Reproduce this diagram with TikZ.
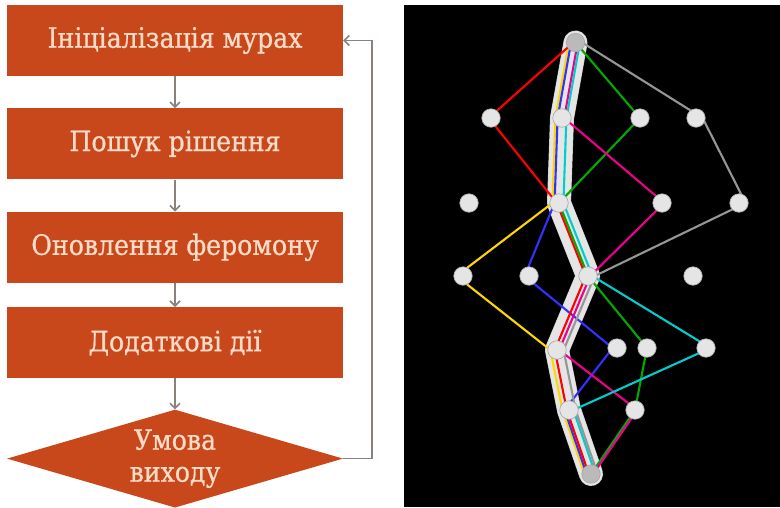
\documentclass[tikz,border=0pt]{standalone}
\usepackage{fontspec}
\setmainfont{DejaVu Serif Condensed}[FakeBold=0.8]
\usepackage{xcolor}
\usepackage{tikz}
\usetikzlibrary{shapes.geometric, arrows.meta, positioning, backgrounds}

\definecolor{stagefill}{RGB}{200,72,28}
\definecolor{stagetext}{RGB}{250,220,200}
\definecolor{linkgray}{RGB}{140,128,124}
\definecolor{antyellow}{RGB}{255,215,0}
\definecolor{antblue}{RGB}{50,50,255}
\definecolor{antgreen}{RGB}{0,170,0}
\definecolor{antcyan}{RGB}{0,205,205}
\definecolor{antgray}{RGB}{150,150,150}

\begin{document}
\begin{tikzpicture}[x=1pt, y=-1pt, node distance=32pt, align=center]
    % Define styles
    \tikzstyle{stage} = [rectangle, minimum width=336pt, minimum height=71pt, text centered, fill=stagefill, text=stagetext, font=\fontsize{28}{32}\selectfont]
    \tikzstyle{decision} = [diamond, aspect=3.4, minimum width=336pt, minimum height=98pt, inner sep=0pt, fill=stagefill, text=stagetext, font=\fontsize{28}{32}\selectfont]
    \tikzstyle{arrow} = [draw=linkgray, line width=1.6pt, ->, >={Straight Barb[length=5pt,width=10pt]}]
    \tikzstyle{town} = [circle, minimum size=18.5pt, inner sep=0pt, fill=black!10, draw=black!35, line width=0.6pt]
    \tikzstyle{home} = [town, fill=black!27]
    \tikzstyle{band} = [line width=23pt, draw=black!10, line cap=round, line join=round]
    \tikzstyle{route} = [line width=2.1pt, line join=round]

    \useasboundingbox (0,0) rectangle (780,507);

    % Flowchart
    \node (init) [stage] at (175,40.5) {Ініціалізація мурах};
    \node (search) [stage, below=of init] {Пошук рішення};
    \node (update) [stage, below=of search] {Оновлення феромону};
    \node (extra) [stage, below=24pt of update] {Додаткові дії};
    \node (exit) [decision, below=31pt of extra] {Умова\\виходу};

    \draw [arrow] (init) -- (search);
    \draw [arrow] (search) -- (update);
    \draw [arrow] (update) -- (extra);
    \draw [arrow] (extra) -- (exit);
    \draw [arrow] (exit.east) -- ++(29,0) |- (init.east);

    % Graph nodes
    \node (s) [home] at (575.5,42.5) {};
    \node (a1) [town] at (491,118) {};
    \node (a2) [town] at (562,118) {};
    \node (a3) [town] at (640,118) {};
    \node (a4) [town] at (696,118) {};
    \node (b1) [town] at (469,203) {};
    \node (b2) [town] at (559,203) {};
    \node (b3) [town] at (662,203) {};
    \node (b4) [town] at (739,203) {};
    \node (c1) [town] at (463,276) {};
    \node (c2) [town] at (529,276) {};
    \node (c3) [town] at (588,276) {};
    \node (c4) [town] at (693,276) {};
    \node (d1) [town] at (557,350) {};
    \node (d2) [town] at (617,348) {};
    \node (d3) [town] at (647,348) {};
    \node (d4) [town] at (706,348) {};
    \node (e1) [town] at (569,410) {};
    \node (e2) [town] at (635,410) {};
    \node (t) [home] at (591,474) {};

    \begin{pgfonlayer}{background}
        \fill [black] (404,5) rectangle (780,507);
        % best tour
        \draw [band, draw=black!22, line width=24pt] (s.center) -- (a2.center) -- (b2.center) -- (c3.center) -- (d1.center) -- (e1.center) -- (t.center);
        \draw [band] (s.center) -- (a2.center) -- (b2.center) -- (c3.center) -- (d1.center) -- (e1.center) -- (t.center);
        % ant tours
        \draw [route, antyellow, transform canvas={xshift=-6.6pt}] (s.center) -- (a2.center) -- (b2.center) -- (c1.center) -- (d1.center) -- (e1.center) -- (t.center);
        \draw [route, antblue, transform canvas={xshift=-4.4pt}] (s.center) -- (a2.center) -- (b2.center) -- (c2.center) -- (d2.center) -- (e1.center) -- (t.center);
        \draw [route, red, transform canvas={xshift=-2.2pt}] (s.center) -- (a1.center) -- (b2.center) -- (c3.center) -- (d1.center) -- (e1.center) -- (t.center);
        \draw [route, antgreen] (s.center) -- (a3.center) -- (b2.center) -- (c3.center) -- (d3.center) -- (e2.center) -- (t.center);
        \draw [route, magenta, transform canvas={xshift=2.2pt}] (s.center) -- (a2.center) -- (b3.center) -- (c3.center) -- (d1.center) -- (e2.center) -- (t.center);
        \draw [route, antcyan, transform canvas={xshift=4.4pt}] (s.center) -- (a2.center) -- (b2.center) -- (c3.center) -- (d4.center) -- (e1.center) -- (t.center);
        \draw [route, antgray, transform canvas={xshift=6.6pt}] (s.center) -- (a4.center) -- (b4.center) -- (c3.center) -- (d1.center) -- (e1.center) -- (t.center);
    \end{pgfonlayer}
\end{tikzpicture}
\end{document}
